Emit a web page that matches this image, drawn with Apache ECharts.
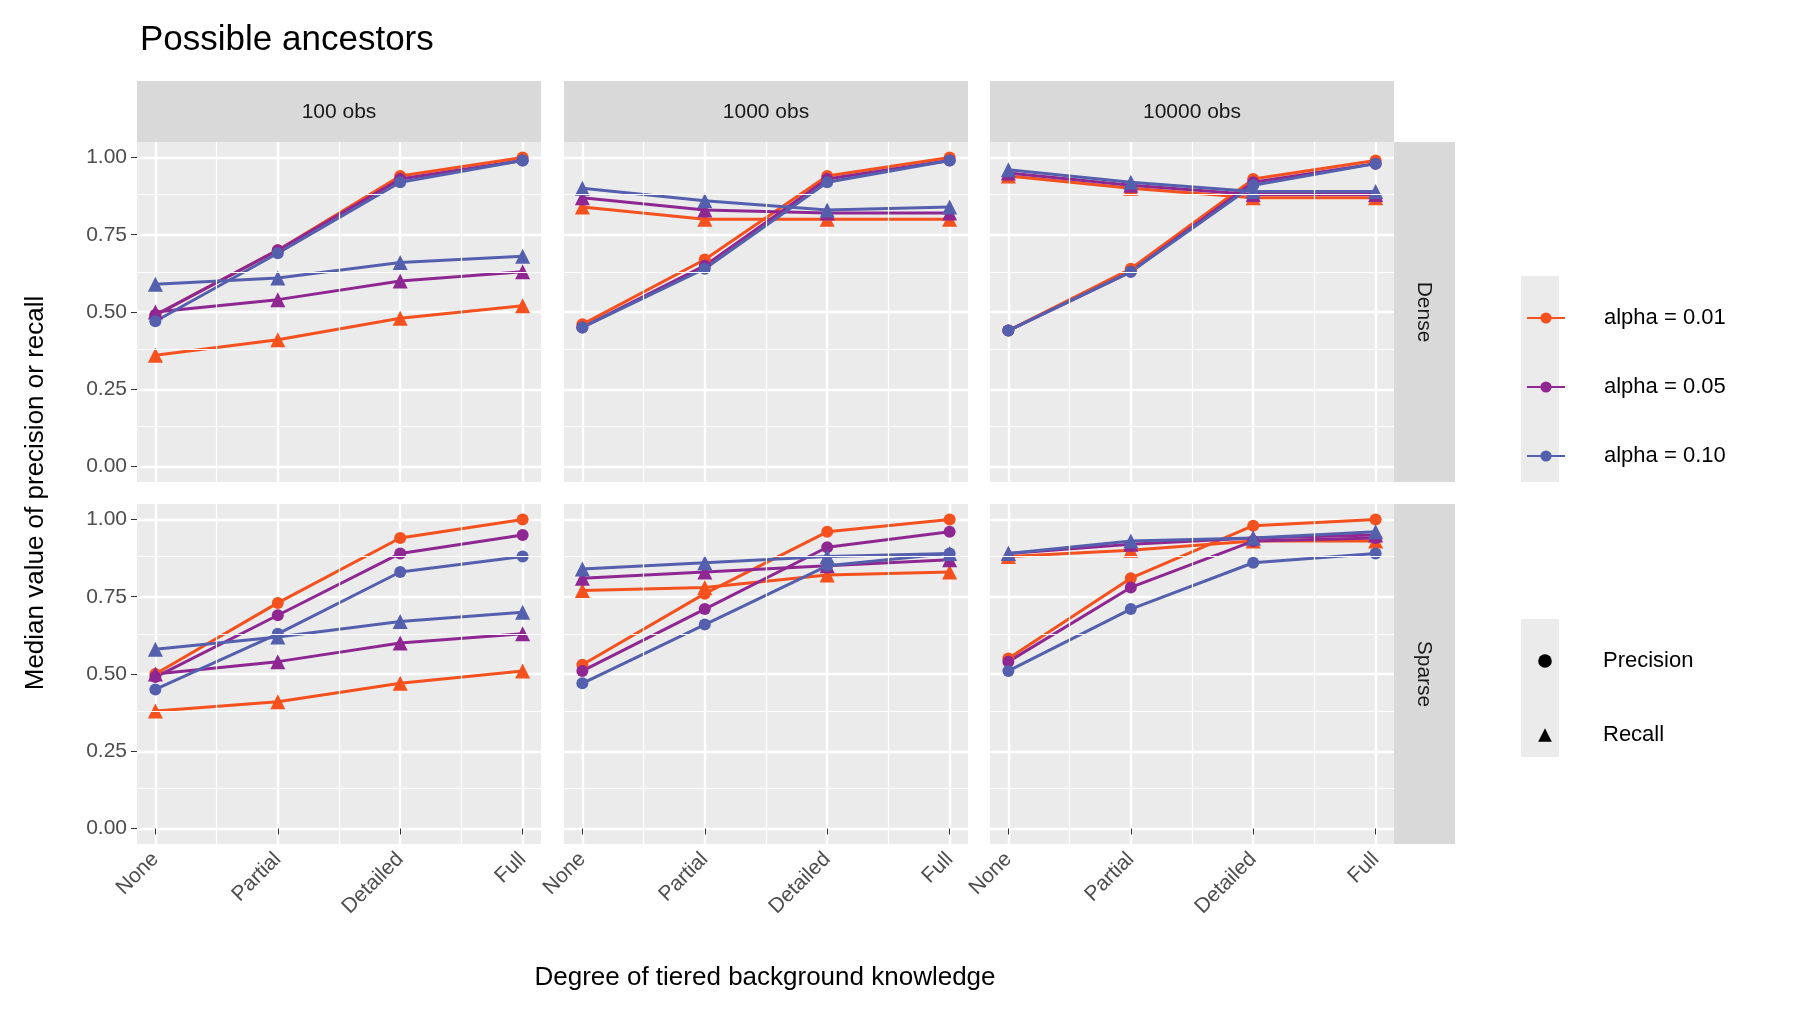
<!DOCTYPE html>
<html><head><meta charset="utf-8">
<script src="https://cdn.jsdelivr.net/npm/echarts@6/dist/echarts.min.js"></script>
<style>html,body{margin:0;background:#fff}#c{width:1800px;height:1013px}</style>
</head><body><div id="c"></div>
<script>
// data
const categories = ['None', 'Partial', 'Detailed', 'Full'];
const obsLevels = ['100 obs', '1000 obs', '10000 obs'];
const densities = ['Dense', 'Sparse'];
const alphas = ['alpha = 0.01', 'alpha = 0.05', 'alpha = 0.10'];
const colors = ['#f4511e', '#8e2791', '#5460ad'];
const yTicks = [0, 0.25, 0.5, 0.75, 1];
const yMinor = [0.125, 0.375, 0.625, 0.875];
const xMinor = [1.5, 2.5, 3.5];

// [density][obs][alpha]
const precision = [
  [
    [[0.49, 0.70, 0.94, 1.00], [0.49, 0.70, 0.93, 0.99], [0.47, 0.69, 0.92, 0.99]],
    [[0.46, 0.67, 0.94, 1.00], [0.45, 0.65, 0.93, 0.99], [0.45, 0.64, 0.92, 0.99]],
    [[0.44, 0.64, 0.93, 0.99], [0.44, 0.63, 0.92, 0.98], [0.44, 0.63, 0.91, 0.98]]
  ],
  [
    [[0.50, 0.73, 0.94, 1.00], [0.49, 0.69, 0.89, 0.95], [0.45, 0.63, 0.83, 0.88]],
    [[0.53, 0.76, 0.96, 1.00], [0.51, 0.71, 0.91, 0.96], [0.47, 0.66, 0.85, 0.89]],
    [[0.55, 0.81, 0.98, 1.00], [0.54, 0.78, 0.93, 0.94], [0.51, 0.71, 0.86, 0.89]]
  ]
];
const recall = [
  [
    [[0.36, 0.41, 0.48, 0.52], [0.50, 0.54, 0.60, 0.63], [0.59, 0.61, 0.66, 0.68]],
    [[0.84, 0.80, 0.80, 0.80], [0.87, 0.83, 0.82, 0.82], [0.90, 0.86, 0.83, 0.84]],
    [[0.94, 0.90, 0.87, 0.87], [0.95, 0.91, 0.88, 0.88], [0.96, 0.92, 0.89, 0.89]]
  ],
  [
    [[0.38, 0.41, 0.47, 0.51], [0.50, 0.54, 0.60, 0.63], [0.58, 0.62, 0.67, 0.70]],
    [[0.77, 0.78, 0.82, 0.83], [0.81, 0.83, 0.85, 0.87], [0.84, 0.86, 0.88, 0.89]],
    [[0.88, 0.90, 0.93, 0.93], [0.89, 0.92, 0.94, 0.95], [0.89, 0.93, 0.94, 0.96]]
  ]
];

const font = 'Liberation Sans, Arial, sans-serif';
const colX = [137, 564, 990], panelW = 404;
const rowY = [142, 504], panelH = 340;

const grid = [], xAxis = [], yAxis = [], series = [], graphic = [];
let gi = 0;
for (let r = 0; r < 2; r++) {
  for (let c = 0; c < 3; c++) {
    grid.push({left: colX[c], top: rowY[r], width: panelW, height: panelH, show: true,
      backgroundColor: '#ebebeb', borderWidth: 0});
    xAxis.push({type: 'value', gridIndex: gi, min: 0.85, max: 4.15,
      axisLine: {show: false},
      axisTick: {show: r === 1, length: 6, customValues: [1, 2, 3, 4], lineStyle: {color: '#333'}},
      axisLabel: {show: r === 1, rotate: 45, fontSize: 21, color: '#4d4d4d', fontFamily: font, margin: 12,
        customValues: [1, 2, 3, 4], formatter: v => categories[Math.round(v) - 1] || ''},
      splitLine: {show: true, lineStyle: {color: '#fff', width: 2.4}, customValues: [1, 2, 3, 4]}
    });
    yAxis.push({type: 'value', gridIndex: gi, min: -0.05, max: 1.05,
      axisLine: {show: false},
      axisTick: {show: c === 0, length: 6, customValues: yTicks, lineStyle: {color: '#333'}},
      axisLabel: {show: c === 0, fontSize: 21, color: '#4d4d4d', fontFamily: font, margin: 10,
        customValues: yTicks, formatter: v => v.toFixed(2)},
      splitLine: {show: true, lineStyle: {color: '#fff', width: 2.4}, customValues: yTicks}
    });
    // minor grid lines
    series.push({type: 'line', xAxisIndex: gi, yAxisIndex: gi, data: [], silent: true, z: 1,
      markLine: {silent: true, symbol: 'none', label: {show: false}, animation: false,
        lineStyle: {color: '#fff', width: 1.2, type: 'solid'},
        data: xMinor.map(v => ({xAxis: v})).concat(yMinor.map(v => ({yAxis: v})))}});
    for (let a = 0; a < 3; a++) {
      [[precision, 'circle', 12], [recall, 'triangle', 15]].forEach(([src, sym, sz]) => {
        series.push({type: 'line', name: alphas[a], xAxisIndex: gi, yAxisIndex: gi,
          data: src[r][c][a].map((v, i) => [i + 1, v]),
          symbol: sym, symbolSize: sz, color: colors[a], z: 3,
          lineStyle: {width: 3, color: colors[a]}, itemStyle: {color: colors[a]},
          silent: true, animation: false});
      });
    }
    gi++;
  }
}
// shape legend dummies
series.push({type: 'line', name: 'Precision', data: [], symbol: 'circle', symbolSize: 14,
  itemStyle: {color: '#000'}, lineStyle: {width: 0, opacity: 0}});
series.push({type: 'line', name: 'Recall', data: [], symbol: 'triangle', symbolSize: 17,
  itemStyle: {color: '#000'}, lineStyle: {width: 0, opacity: 0}});

// strips
obsLevels.forEach((t, c) => {
  graphic.push({type: 'rect', shape: {x: colX[c], y: 81, width: panelW, height: 61}, style: {fill: '#d9d9d9'}});
  graphic.push({type: 'text', x: colX[c] + panelW / 2, y: 112,
    style: {text: t, font: '21px ' + font, fill: '#1a1a1a', align: 'center', verticalAlign: 'middle'}});
});
densities.forEach((t, r) => {
  graphic.push({type: 'rect', shape: {x: 1394, y: rowY[r], width: 61, height: panelH}, style: {fill: '#d9d9d9'}});
  graphic.push({type: 'text', x: 1424, y: rowY[r] + panelH / 2, rotation: -Math.PI / 2,
    style: {text: t, font: '21px ' + font, fill: '#1a1a1a', align: 'center', verticalAlign: 'middle'}});
});
// legend keys backgrounds
graphic.push({type: 'rect', shape: {x: 1521, y: 276, width: 38, height: 206}, style: {fill: '#ebebeb'}});
graphic.push({type: 'rect', shape: {x: 1521, y: 619, width: 38, height: 138}, style: {fill: '#ebebeb'}});
graphic.push({type: 'text', x: 765, y: 978, style: {text: 'Degree of tiered background knowledge',
  font: '26px ' + font, fill: '#000', align: 'center', verticalAlign: 'middle'}});
graphic.push({type: 'text', x: 36, y: 493, rotation: Math.PI / 2, style: {text: 'Median value of precision or recall',
  font: '26px ' + font, fill: '#000', align: 'center', verticalAlign: 'middle'}});

const option = {
  backgroundColor: '#fff',
  animation: false,
  title: {text: 'Possible ancestors', left: 135, top: 18,
    textStyle: {fontSize: 35, fontWeight: 'normal', color: '#000', fontFamily: font}},
  grid, xAxis, yAxis, series, graphic,
  legend: [
    {data: alphas, orient: 'vertical', left: 1521, top: 302, itemGap: 47, itemWidth: 38, itemHeight: 14,
      textStyle: {fontSize: 22, color: '#000', fontFamily: font, padding: [0, 0, 0, 34]}, selectedMode: false},
    {data: ['Precision', 'Recall'], orient: 'vertical', left: 1521, top: 645, itemGap: 52, itemWidth: 38, itemHeight: 17,
      textStyle: {fontSize: 22, color: '#000', fontFamily: font, padding: [0, 0, 0, 34]}, selectedMode: false}
  ]
};

echarts.init(document.getElementById('c')).setOption(option);
</script></body></html>
